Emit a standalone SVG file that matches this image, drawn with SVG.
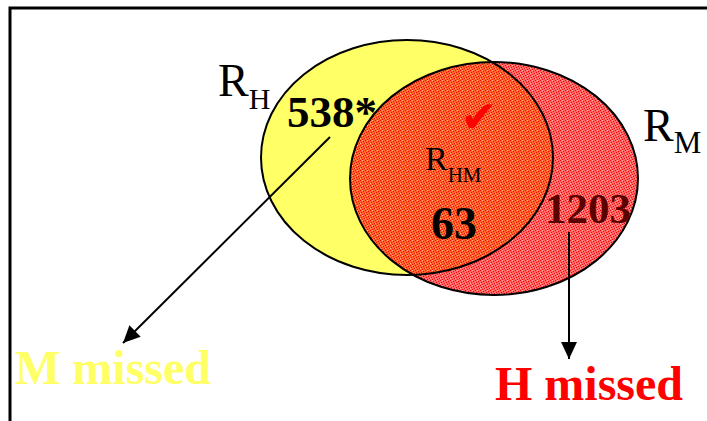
<svg xmlns="http://www.w3.org/2000/svg" width="707" height="421" viewBox="0 0 707 421">
<style>
.outline{fill:none;stroke:#000;stroke-width:2}
.conn{stroke:#000;stroke-width:2;fill:none}
</style>
<defs>
<pattern id="speckle" patternUnits="userSpaceOnUse" width="5" height="5">
<path d="M0 0h1v1h-1z M3 1h1v1h-1z M1 2h1v1h-1z M4 3h1v1h-1z M2 4h1v1h-1z" fill="#ff0000"/>
<path d="M2 0h1v1h-1z M0 3h1v1h-1z" fill="#ffffff" fill-opacity="0.5"/>
</pattern>
<marker id="arrow" markerUnits="userSpaceOnUse" markerWidth="18" markerHeight="16" refX="17" refY="8" orient="auto">
<path d="M0 0 L17 8 L0 16 Z" fill="#000"/>
</marker>
</defs>
<rect x="10" y="8" width="720" height="440" fill="#fff" stroke="#000" stroke-width="3"/>
<g id="set-RH">
<ellipse cx="407" cy="157.5" rx="146" ry="117.5" fill="#ffff66"/>
</g>
<g id="set-RM">
<ellipse cx="494" cy="178.5" rx="144" ry="116.5" fill="#ff0000" fill-opacity="0.6"/>
<ellipse cx="494" cy="178.5" rx="144" ry="116.5" fill="url(#speckle)"/>
</g>
<ellipse class="outline" cx="407" cy="157.5" rx="146" ry="117.5"/>
<ellipse class="outline" cx="494" cy="178.5" rx="144" ry="116.5"/>
<g id="label-RH" font-family="'Liberation Serif', 'Times New Roman', serif">
<text x="218" y="96" font-size="46" fill="#000">R<tspan font-size="30" y="109">H</tspan></text>
<text x="287" y="127" font-size="45" font-weight="bold" fill="#000">538*</text>
</g>
<g id="label-RM" font-family="'Liberation Serif', 'Times New Roman', serif">
<text x="643" y="141" font-size="46" fill="#000">R<tspan font-size="31" y="153">M</tspan></text>
<text x="545" y="223" font-size="43" font-weight="bold" fill="#5a0000">1203</text>
</g>
<g id="label-RHM" font-family="'Liberation Serif', 'Times New Roman', serif">
<text x="479" y="132" font-family="'DejaVu Sans', sans-serif" font-size="44" fill="#ff0000" text-anchor="middle">✔</text>
<text x="425" y="170" font-size="34" fill="#000">R<tspan font-size="21" y="182">HM</tspan></text>
<text x="431" y="239" font-size="46" font-weight="bold" fill="#000">63</text>
</g>
<g id="connectors">
<line class="conn" x1="330" y1="137" x2="123" y2="343" marker-end="url(#arrow)"/>
<line class="conn" x1="569" y1="232" x2="569" y2="359" marker-end="url(#arrow)"/>
</g>
<g id="label-Mmissed" font-family="'Liberation Serif', 'Times New Roman', serif">
<text x="15" y="384" font-size="48" font-weight="bold" fill="#ffff66">M missed</text>
</g>
<g id="label-Hmissed" font-family="'Liberation Serif', 'Times New Roman', serif">
<text x="495" y="400" font-size="48" font-weight="bold" fill="#ff0000">H missed</text>
</g>
</svg>
